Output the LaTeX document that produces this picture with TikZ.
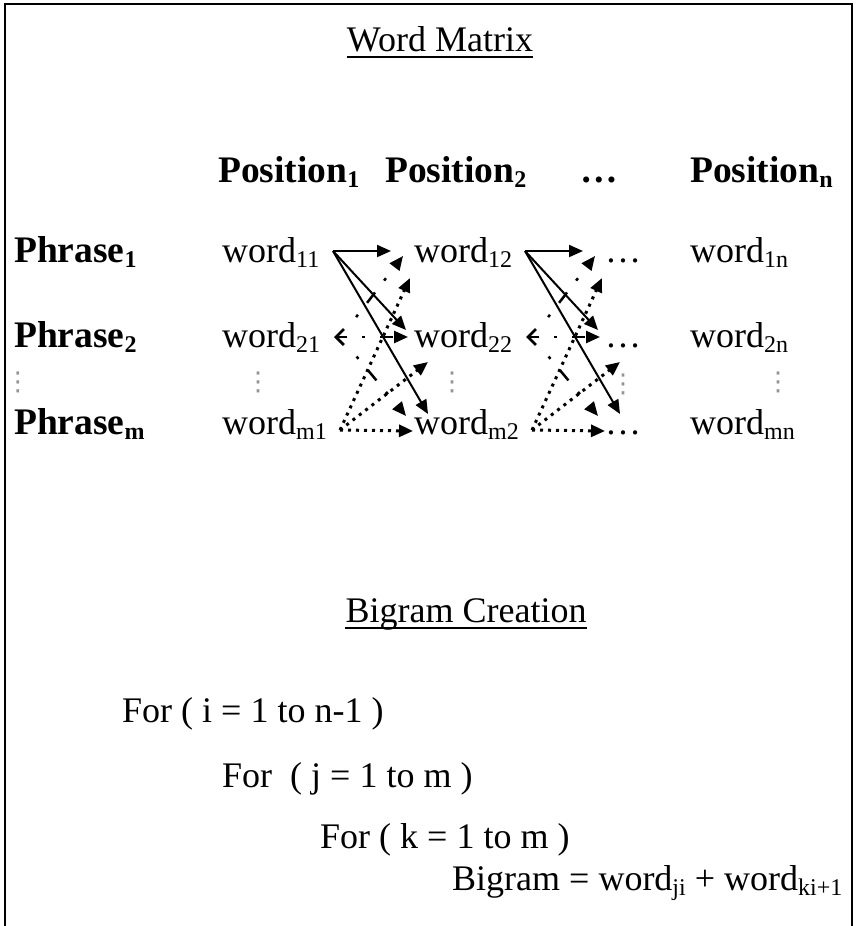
\documentclass[tikz,border=0pt]{standalone}
\usepackage{fontspec}
\setmainfont{Liberation Serif}
\newfontfamily\symfont{DejaVu Sans}
\usetikzlibrary{arrows.meta}
\newcommand{\sbs}[1]{\raisebox{-5pt}{\fontsize{24}{24}\selectfont #1}}
\begin{document}
\begin{tikzpicture}[x=1pt,y=-1pt,
  txt/.style={inner sep=0pt, anchor=base west, font=\fontsize{36}{40}\selectfont},
  btxt/.style={inner sep=0pt, anchor=base west, font=\fontsize{37.5}{40}\selectfont\bfseries},
  ttl/.style={inner sep=0pt, anchor=base, font=\fontsize{36}{40}\selectfont},
  uline/.style={line width=2pt},
  vd/.style={inner sep=0pt, text=black!42, font=\symfont\fontsize{26}{26}\selectfont},
  solidarr/.style={line width=2pt, -{Triangle[length=14pt,width=12pt]}},
  dasharr/.style={line width=2.5pt, dash pattern=on 13pt off 15pt on 3pt off 15pt, dash phase=13pt, -{Triangle[length=14pt,width=12pt]}},
  dotarr/.style={line width=3pt, dash pattern=on 3pt off 5pt, -{Triangle[length=14pt,width=12pt]}},
  frame/.style={line width=2pt}]
\useasboundingbox (0,0) rectangle (856,926);
\draw[frame] (5,926) -- (5,4) -- (852,4) -- (852,926);

% titles
\node[ttl] (t1) at (440,51) {Word Matrix};
\draw[uline] ([yshift=-6pt]t1.base west) -- ([yshift=-6pt]t1.base east);
\node[ttl] (t2) at (466,622) {Bigram Creation};
\draw[uline] ([yshift=-6pt]t2.base west) -- ([yshift=-6pt]t2.base east);

% header
\node[btxt] (h1) at (218,182) {Position\sbs{1}};
\node[btxt] (h2) at (385,182) {Position\sbs{2}};
\node[btxt] (h3) at (580,182) {…};
\node[btxt] (hn) at (690,182) {Position\sbs{n}};

% rows
\node[btxt] (r1) at (14,262) {Phrase\sbs{1}};
\node[btxt] (r2) at (14,347) {Phrase\sbs{2}};
\node[btxt] (rm) at (14,434) {Phrase\sbs{m}};

\node[txt] (w11) at (222,262) {word\sbs{11}};
\node[txt] (w21) at (222,347) {word\sbs{21}};
\node[txt] (wm1) at (222,434) {word\sbs{m1}};
\node[txt] (w12) at (414,262) {word\sbs{12}};
\node[txt] (w22) at (414,347) {word\sbs{22}};
\node[txt] (wm2) at (414,434) {word\sbs{m2}};
\node[txt] (e1) at (605,262) {…};
\node[txt] (e2) at (605,347) {…};
\node[txt] (em) at (605,434) {…};
\node[txt] (w1n) at (690,262) {word\sbs{1n}};
\node[txt] (w2n) at (690,347) {word\sbs{2n}};
\node[txt] (wmn) at (690,434) {word\sbs{mn}};

% vertical dots
\node[vd] (v1) at (18,382) {⋮};
\node[vd] (v2) at (258,382) {⋮};
\node[vd] (v3) at (452,382) {⋮};
\node[vd] (v4) at (623,384) {⋮};
\node[vd] (v5) at (778,382) {⋮};

% connectors
\foreach \g/\dx in {a/0,b/192}{
  \coordinate (\g-s1) at (333+\dx,251);
  \coordinate (\g-s2) at (334+\dx,337);
  \coordinate (\g-s2u) at (347+\dx,329);
  \coordinate (\g-s2d) at (347+\dx,345);
  \coordinate (\g-s3) at (340+\dx,430);
  \coordinate (\g-t11) at (391+\dx,251);
  \coordinate (\g-t12) at (406+\dx,330);
  \coordinate (\g-t13) at (428+\dx,414);
  \coordinate (\g-t21) at (403+\dx,256);
  \coordinate (\g-t22) at (408+\dx,337);
  \coordinate (\g-t23) at (406+\dx,416);
  \coordinate (\g-t31) at (410+\dx,278);
  \coordinate (\g-t32) at (428+\dx,362);
  \coordinate (\g-t33) at (413+\dx,431);
  \draw[solidarr] (\g-s1) -- (\g-t11);
  \draw[solidarr] (\g-s1) -- (\g-t12);
  \draw[solidarr] (\g-s1) -- (\g-t13);
  \draw[dasharr, dash phase=3pt, {Straight Barb[length=8pt,width=16pt,line width=2.8pt]}-{Triangle[length=14pt,width=12pt]}] (\g-s2) -- (\g-t22);
  \draw[dasharr] (\g-s2u) -- (\g-t21);
  \draw[dasharr] (\g-s2d) -- (\g-t23);
  \draw[dotarr] (\g-s3) -- (\g-t31);
  \draw[dotarr] (\g-s3) -- (\g-t32);
  \draw[dotarr] (\g-s3) -- (\g-t33);
}

% loops
\node[txt] (f1) at (122,722) {For ( i = 1 to n-1 )};
\node[txt] (f2) at (222,787) {For\ \ ( j = 1 to m )};
\node[txt] (f3) at (320,848) {For ( k = 1 to m )};
\node[txt] (bg) at (452,890) {Bigram = word\sbs{ji} + word\sbs{ki+1}};
\end{tikzpicture}
\end{document}
